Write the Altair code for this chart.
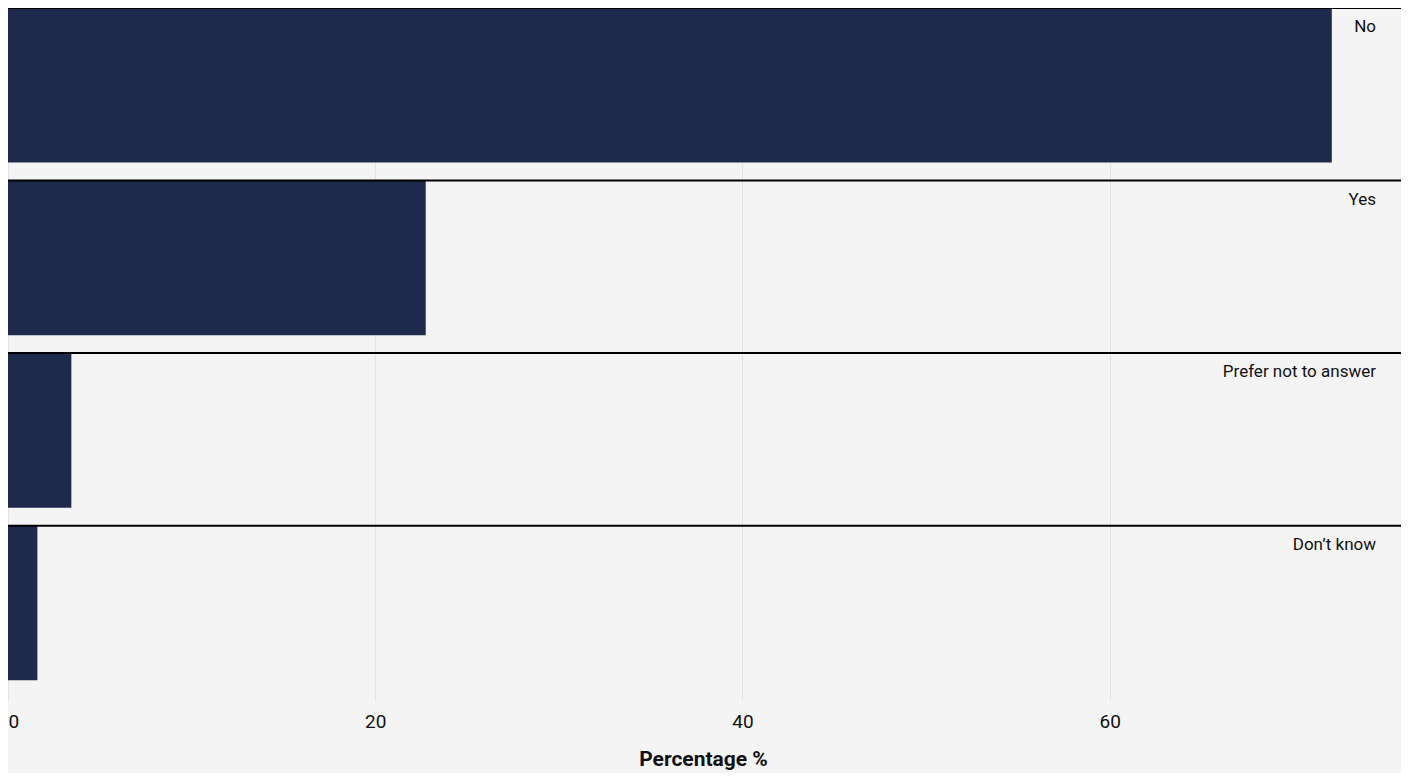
import altair as alt
import pandas as pd

categories = ["No", "Yes", "Prefer not to answer", "Don’t know"]
values = [72.1, 22.75, 3.45, 1.6]

df = pd.DataFrame({"answer": categories, "pct": values})

W = 1390
H = 693
xmax = max(values) * 1.05

xs = alt.Scale(domain=[0, xmax], nice=False, zero=True)
ys = alt.Scale(domain=categories, paddingInner=0.104, paddingOuter=0.06, align=0)

base = alt.Chart(df)

bars = base.mark_bar(color="#1e2a4b").encode(
    x=alt.X("pct:Q", scale=xs,
            axis=alt.Axis(title="Percentage %", values=[0, 20, 40, 60], grid=True,
                          gridColor="#e4e4e4", gridWidth=1, domain=False, ticks=False,
                          labelFontSize=19, labelColor="#111", labelPadding=11,
                          labelFont="Roboto", titleFont="Roboto", titleFontSize=21,
                          titleFontWeight="bold", titleColor="#111", titlePadding=17,
                          labelFlush=True)),
    y=alt.Y("answer:N", scale=ys, axis=None, sort=categories),
)

rules = base.mark_rule(color="#000000", strokeWidth=2).encode(
    x=alt.value(0),
    x2=alt.value(W + 3),
    y=alt.Y("answer:N", scale=ys, sort=categories, bandPosition=0),
)

labels = base.mark_text(align="right", baseline="top", dy=11, fontSize=17,
                        font="Roboto", color="#111").encode(
    x=alt.value(W - 22),
    y=alt.Y("answer:N", scale=ys, sort=categories, bandPosition=0),
    text="answer:N",
)

chart = alt.layer(bars, rules, labels).properties(
    width=W, height=H,
    background="#f4f4f4",
    padding={"left": 0, "top": 0, "right": 3, "bottom": 72},
    autosize=alt.AutoSizeParams(type="none"),
).configure_view(stroke=None)

chart.save("out.html", embed_options={"renderer": "svg", "actions": False})
